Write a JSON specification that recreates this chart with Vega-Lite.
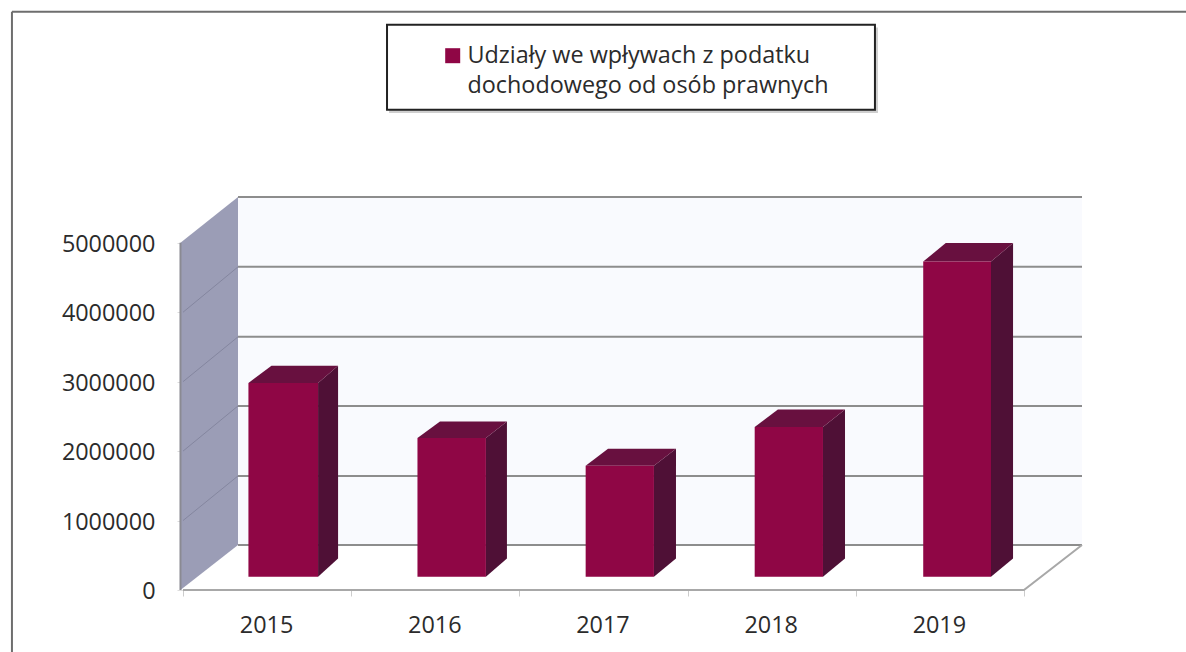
{
"$schema":"https://vega.github.io/schema/vega-lite/v6.json",
"width":899,"height":393,
"autosize":"none",
"padding":{"left":183,"top":197,"right":104,"bottom":62},
"background":"#ffffff",
"view":{"stroke":null},
"config":{"font":"Open Sans","style":{"guide-label":{"lineHeight":30}}},
"datasets":{
"bars":[
{"year":"2015","series":"Udziały we wpływach z podatku|dochodowego od osób prawnych","left":0.389,"right":0.803,"base":191000,"top":2983000},
{"year":"2016","series":"Udziały we wpływach z podatku|dochodowego od osób prawnych","left":1.394,"right":1.801,"base":191000,"top":2190000},
{"year":"2017","series":"Udziały we wpływach z podatku|dochodowego od osób prawnych","left":2.394,"right":2.800,"base":191000,"top":1791000},
{"year":"2018","series":"Udziały we wpływach z podatku|dochodowego od osób prawnych","left":3.399,"right":3.805,"base":191000,"top":2349000},
{"year":"2019","series":"Udziały we wpływach z podatku|dochodowego od osób prawnych","left":4.401,"right":4.804,"base":191000,"top":4730000}
],
"sides":[
{"year":"2015","x":0.803,"lo":191000,"hi":2983000},{"year":"2015","x":0.922,"lo":454000,"hi":3228000},
{"year":"2016","x":1.801,"lo":191000,"hi":2190000},{"year":"2016","x":1.926,"lo":454000,"hi":2425000},
{"year":"2017","x":2.800,"lo":191000,"hi":1791000},{"year":"2017","x":2.931,"lo":454000,"hi":2036000},
{"year":"2018","x":3.805,"lo":191000,"hi":2349000},{"year":"2018","x":3.936,"lo":454000,"hi":2601000},
{"year":"2019","x":4.804,"lo":191000,"hi":4730000},{"year":"2019","x":4.935,"lo":454000,"hi":4996000}
],
"tops":[
{"year":"2015","x":0.389,"lo":2983000,"hi":2983000},{"year":"2015","x":0.526,"lo":2983000,"hi":3228000},{"year":"2015","x":0.803,"lo":2983000,"hi":3228000},{"year":"2015","x":0.922,"lo":3228000,"hi":3228000},
{"year":"2016","x":1.394,"lo":2190000,"hi":2190000},{"year":"2016","x":1.528,"lo":2190000,"hi":2425000},{"year":"2016","x":1.801,"lo":2190000,"hi":2425000},{"year":"2016","x":1.926,"lo":2425000,"hi":2425000},
{"year":"2017","x":2.394,"lo":1791000,"hi":1791000},{"year":"2017","x":2.527,"lo":1791000,"hi":2036000},{"year":"2017","x":2.800,"lo":1791000,"hi":2036000},{"year":"2017","x":2.931,"lo":2036000,"hi":2036000},
{"year":"2018","x":3.399,"lo":2349000,"hi":2349000},{"year":"2018","x":3.537,"lo":2349000,"hi":2601000},{"year":"2018","x":3.805,"lo":2349000,"hi":2601000},{"year":"2018","x":3.936,"lo":2601000,"hi":2601000},
{"year":"2019","x":4.401,"lo":4730000,"hi":4730000},{"year":"2019","x":4.535,"lo":4730000,"hi":4996000},{"year":"2019","x":4.804,"lo":4730000,"hi":4996000},{"year":"2019","x":4.935,"lo":4996000,"hi":4996000}
],
"grid":[{"v":648000},{"v":1643000},{"v":2651000},{"v":3646000},{"v":4654000},{"v":5660000}],
"wallgrid":[
{"g":1,"x":0,"y":1000000},{"g":1,"x":0.327,"y":1643000},
{"g":2,"x":0,"y":2000000},{"g":2,"x":0.327,"y":2651000},
{"g":3,"x":0,"y":3000000},{"g":3,"x":0.327,"y":3646000},
{"g":4,"x":0,"y":4000000},{"g":4,"x":0.327,"y":4654000}
],
"floor":[{"x":0,"y":0},{"x":5,"y":0},{"x":5.345,"y":648000}],
"wall":[{"x":-0.015,"lo":0,"hi":5000000},{"x":0.327,"lo":648000,"hi":5660000}]
},
"layer":[
{"mark":{"type":"rect","clip":false,"fill":"#f9fafe"},"data":{"values":[{"a":0.327,"b":5.345,"lo":648000,"hi":5660000}]},
 "encoding":{"x":{"field":"a","type":"quantitative","scale":{"domain":[0,5.345],"nice":false,"zero":false},
   "axis":{"title":null,"domain":false,"grid":false,"values":[0,0.5,1,1.5,2,2.5,3,3.5,4,4.5,5],"labelExpr":"datum.value % 1 == 0.5 ? ''+(2015+floor(datum.value)) : ''","tickColor":"#cccccc","tickOpacity":{"expr":"datum.value % 1 == 0 ? 1 : 0"},"tickSize":6,"labelFontSize":23.4,"labelColor":"#2b2b2b","labelPadding":18,"labelOffset":-1,"labelFlush":false,"labelOverlap":false}},
  "x2":{"field":"b"},
  "y":{"field":"hi","type":"quantitative","scale":{"domain":[0,5660000],"nice":false},
   "axis":{"title":null,"domain":false,"grid":false,"values":[0,1000000,2000000,3000000,4000000,5000000],"labelExpr":"''+datum.value","tickColor":"#dddddd","tickSize":6,"labelFontSize":23.4,"labelColor":"#2b2b2b","labelPadding":22,"labelOffset":1.5}},
  "y2":{"field":"lo"}}},
{"mark":{"type":"area","fill":"#9b9db6","clip":false},"data":{"name":"wall"},
 "encoding":{"x":{"field":"x","type":"quantitative"},"y":{"field":"hi","type":"quantitative"},"y2":{"field":"lo"}}},
{"mark":{"type":"rule","stroke":"#8d8d8d","strokeWidth":2},"data":{"name":"grid"},
 "encoding":{"y":{"field":"v","type":"quantitative"},"x":{"datum":0.327},"x2":{"datum":5.345}}},
{"mark":{"type":"line","stroke":"#84869f","strokeWidth":1},"data":{"name":"wallgrid"},
 "encoding":{"x":{"field":"x","type":"quantitative"},"y":{"field":"y","type":"quantitative"},"detail":{"field":"g"}}},
{"mark":{"type":"line","stroke":"#a8a8a8","strokeWidth":2,"clip":false},"data":{"name":"floor"},
 "encoding":{"x":{"field":"x","type":"quantitative"},"y":{"field":"y","type":"quantitative"}}},
{"mark":{"type":"line","stroke":"#8a8a92","strokeWidth":2,"clip":false},"data":{"values":[{"x":-0.015,"y":0},{"x":-0.015,"y":5000000}]},
 "encoding":{"x":{"field":"x","type":"quantitative"},"y":{"field":"y","type":"quantitative"}}},
{"mark":{"type":"area","fill":"#4f1036"},"data":{"name":"sides"},
 "encoding":{"x":{"field":"x","type":"quantitative"},"y":{"field":"hi","type":"quantitative"},"y2":{"field":"lo"},"detail":{"field":"year"}}},
{"mark":{"type":"area","fill":"#68103f"},"data":{"name":"tops"},
 "encoding":{"x":{"field":"x","type":"quantitative"},"y":{"field":"hi","type":"quantitative"},"y2":{"field":"lo"},"detail":{"field":"year"}}},
{"mark":{"type":"rect"},"data":{"name":"bars"},
 "encoding":{"x":{"field":"left","type":"quantitative"},"x2":{"field":"right"},"y":{"field":"top","type":"quantitative"},"y2":{"field":"base"},
  "color":{"field":"series","type":"nominal","scale":{"range":["#8f0645"]},
   "legend":{"title":null,"orient":"none","legendX":258,"legendY":-153,"symbolType":"square","symbolSize":225,"labelFontSize":23.4,"labelColor":"#2b2b2b","labelLimit":500,"labelOffset":3,"labelExpr":"split(datum.label,'|')","zindex":2}}}},
{"mark":{"type":"rect","fill":"#a0a0a0","opacity":0.5,"clip":false},"data":{"values":[{"a":1.225,"b":4.132,"lo":6870000,"hi":8100000}]},
 "encoding":{"x":{"field":"a","type":"quantitative"},"x2":{"field":"b"},"y":{"field":"hi","type":"quantitative"},"y2":{"field":"lo"}}},
{"mark":{"type":"rect","fill":"#ffffff","stroke":"#222222","strokeWidth":2,"clip":false},"data":{"values":[{"a":1.213,"b":4.114,"lo":6916000,"hi":8141000}]},
 "encoding":{"x":{"field":"a","type":"quantitative"},"x2":{"field":"b"},"y":{"field":"hi","type":"quantitative"},"y2":{"field":"lo"}}},
{"mark":{"type":"rule","stroke":"#6e6e6e","strokeWidth":2,"clip":false},"data":{"values":[{"a":-1.017,"b":6.0,"lo":8329000,"hi":8329000},{"a":-1.017,"b":-1.017,"lo":-893000,"hi":8329000}]},
 "encoding":{"x":{"field":"a","type":"quantitative"},"x2":{"field":"b"},"y":{"field":"hi","type":"quantitative"},"y2":{"field":"lo"}}}
]
}
